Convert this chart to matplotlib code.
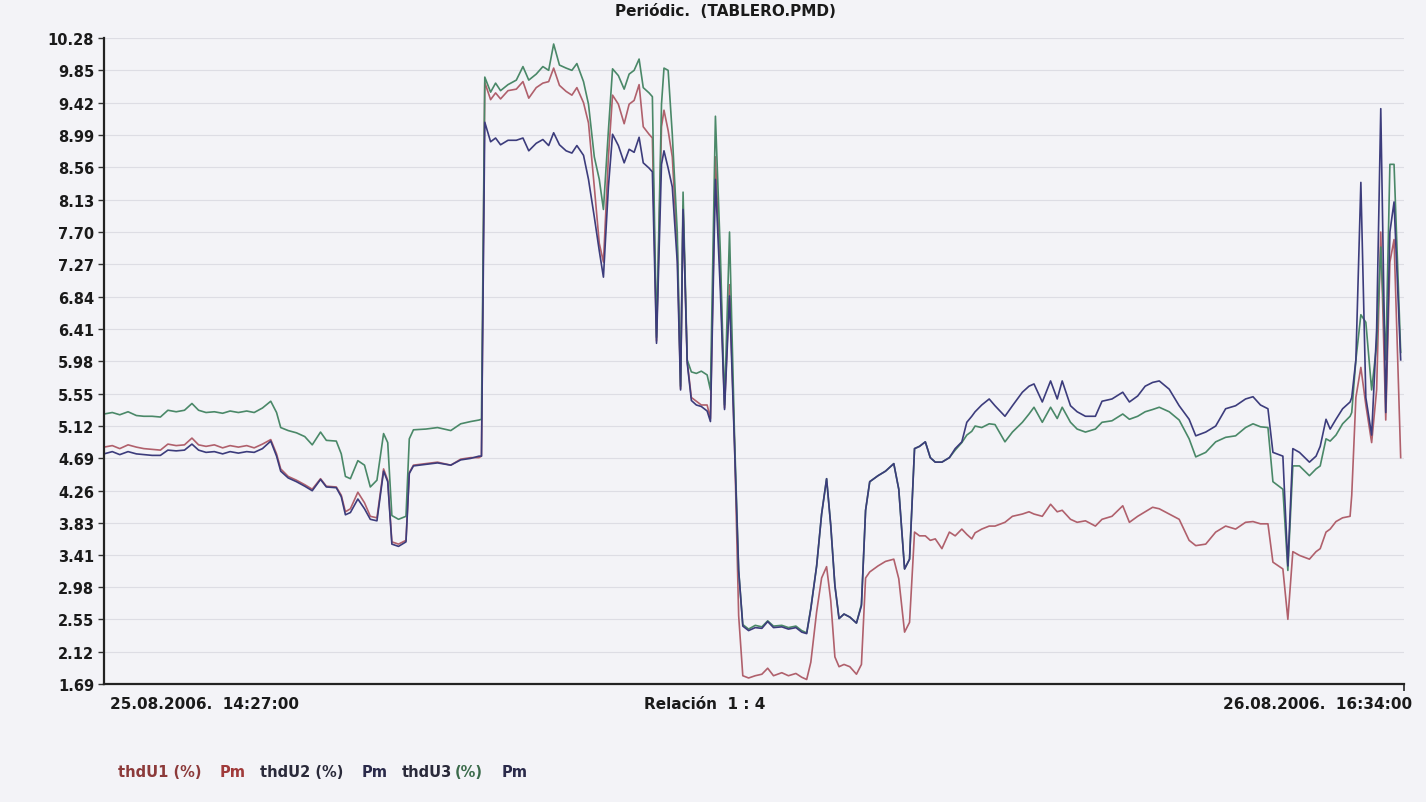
import numpy as np
import matplotlib
matplotlib.use("Agg")
import matplotlib.pyplot as plt

# minutes since 25.08.2006 14:27:00 (last sample 26.08.2006 16:34:00)
t_min = [0, 10, 19, 29, 39, 48, 58, 68, 77, 87, 97, 106, 114, 123, 133, 143, 152, 162, 172, 181,
         191, 201, 208, 213, 222, 232, 242, 251, 261, 268, 280, 286, 291, 297, 306, 314, 321, 329,
         337, 342, 347, 355, 364, 368, 373, 388, 402, 418, 430, 442, 452, 455, 459, 466, 472, 478,
         487, 497, 505, 512, 521, 529, 536, 542, 549, 557, 564, 570, 578, 584, 591, 597, 602, 608,
         613, 620, 627, 633, 639, 645, 650, 657, 661, 666, 672, 675, 680, 685, 691, 695, 698, 703,
         708, 714, 720, 727, 731, 737, 743, 748, 754, 760, 765, 770, 777, 785, 793, 800, 807, 817,
         825, 834, 841, 847, 852, 859, 865, 871, 876, 881, 886, 892, 899, 907, 913, 918, 923, 933,
         942, 952, 958, 965, 971, 977, 983, 990, 996, 1002, 1010, 1019, 1026, 1034, 1040, 1046,
         1050, 1058, 1067, 1074, 1086, 1095, 1107, 1115, 1121, 1131, 1141, 1149, 1155, 1165, 1173,
         1183, 1195, 1203, 1215, 1228, 1236, 1246, 1255, 1264, 1272, 1284, 1296, 1308, 1316, 1328,
         1340, 1352, 1364, 1376, 1385, 1394, 1403, 1409, 1421, 1427, 1433, 1441, 1453, 1461, 1466,
         1473, 1478, 1485, 1493, 1502, 1504, 1509, 1515, 1521, 1528, 1534, 1539, 1545, 1550, 1555,
         1563]

thdU1 = [4.84, 4.86, 4.82, 4.87, 4.84, 4.82, 4.81, 4.80, 4.88, 4.86, 4.87, 4.96, 4.87, 4.85, 4.87,
         4.83, 4.86, 4.84, 4.86, 4.83, 4.88, 4.94, 4.75, 4.55, 4.45, 4.40, 4.34, 4.28, 4.42, 4.32,
         4.31, 4.20, 3.98, 4.02, 4.24, 4.10, 3.92, 3.90, 4.55, 4.40, 3.58, 3.55, 3.60, 4.50, 4.60,
         4.62, 4.64, 4.60, 4.68, 4.70, 4.70, 4.72, 9.69, 9.46, 9.55, 9.47, 9.58, 9.60, 9.70, 9.48,
         9.62, 9.68, 9.70, 9.88, 9.65, 9.57, 9.52, 9.62, 9.42, 9.15, 8.30, 7.55, 7.30, 8.70, 9.52,
         9.40, 9.14, 9.40, 9.45, 9.66, 9.10, 9.00, 8.95, 6.25, 9.10, 9.32, 9.05, 8.70, 7.50, 5.62,
         8.05, 5.98, 5.50, 5.45, 5.40, 5.40, 5.22, 8.70, 7.10, 5.36, 7.00, 4.90, 2.60, 1.80, 1.77,
         1.80, 1.82, 1.90, 1.80, 1.84, 1.80, 1.83, 1.78, 1.75, 1.98, 2.65, 3.10, 3.25, 2.80, 2.05,
         1.92, 1.95, 1.92, 1.82, 1.95, 3.10, 3.18, 3.26, 3.32, 3.35, 3.09, 2.38, 2.51, 3.71, 3.66,
         3.66, 3.60, 3.62, 3.49, 3.71, 3.66, 3.75, 3.68, 3.62, 3.70, 3.75, 3.79, 3.79, 3.84, 3.92,
         3.95, 3.98, 3.95, 3.92, 4.08, 3.98, 4.00, 3.88, 3.84, 3.86, 3.79, 3.88, 3.92, 4.06, 3.84,
         3.92, 3.98, 4.04, 4.02, 3.95, 3.88, 3.60, 3.53, 3.55, 3.71, 3.79, 3.75, 3.84, 3.85, 3.82,
         3.82, 3.31, 3.22, 2.55, 3.45, 3.40, 3.35, 3.45, 3.49, 3.71, 3.75, 3.85, 3.90, 3.92, 4.20,
         5.50, 5.90, 5.40, 4.90, 5.60, 7.70, 5.20, 7.30, 7.60, 4.70]

thdU2 = [4.75, 4.78, 4.74, 4.78, 4.75, 4.74, 4.73, 4.73, 4.80, 4.79, 4.80, 4.88, 4.80, 4.77, 4.78,
         4.75, 4.78, 4.76, 4.78, 4.77, 4.82, 4.92, 4.72, 4.52, 4.43, 4.38, 4.32, 4.26, 4.41, 4.31,
         4.30, 4.18, 3.94, 3.97, 4.15, 4.02, 3.88, 3.86, 4.52, 4.38, 3.55, 3.52, 3.58, 4.49, 4.59,
         4.61, 4.63, 4.60, 4.67, 4.69, 4.72, 4.72, 9.16, 8.90, 8.95, 8.86, 8.92, 8.92, 8.95, 8.78,
         8.88, 8.93, 8.85, 9.02, 8.86, 8.78, 8.75, 8.85, 8.72, 8.40, 7.90, 7.45, 7.10, 8.30, 9.00,
         8.85, 8.62, 8.80, 8.76, 8.96, 8.62, 8.55, 8.50, 6.22, 8.60, 8.78, 8.55, 8.30, 7.30, 5.60,
         8.00, 5.96, 5.46, 5.40, 5.38, 5.32, 5.18, 8.40, 6.90, 5.34, 6.85, 4.85, 3.20, 2.46, 2.40,
         2.44, 2.43, 2.52, 2.44, 2.45, 2.42, 2.44, 2.38, 2.36, 2.69, 3.26, 3.95, 4.42, 3.80, 3.00,
         2.56, 2.62, 2.58, 2.50, 2.73, 4.00, 4.38, 4.46, 4.52, 4.62, 4.28, 3.22, 3.35, 4.82, 4.85,
         4.91, 4.70, 4.64, 4.64, 4.70, 4.82, 4.91, 5.17, 5.25, 5.31, 5.40, 5.48, 5.39, 5.25, 5.39,
         5.57, 5.65, 5.68, 5.44, 5.72, 5.48, 5.72, 5.39, 5.31, 5.25, 5.25, 5.45, 5.48, 5.57, 5.44,
         5.52, 5.65, 5.70, 5.72, 5.61, 5.39, 5.21, 4.99, 5.04, 5.12, 5.35, 5.39, 5.48, 5.51, 5.40,
         5.35, 4.77, 4.72, 3.26, 4.82, 4.77, 4.64, 4.72, 4.85, 5.21, 5.08, 5.21, 5.35, 5.44, 5.50,
         6.00, 8.36, 5.50, 5.00, 6.40, 9.34, 5.30, 7.70, 8.10, 6.00]

thdU3 = [5.28, 5.30, 5.27, 5.31, 5.26, 5.25, 5.25, 5.24, 5.33, 5.31, 5.33, 5.42, 5.33, 5.30, 5.31,
         5.29, 5.32, 5.30, 5.32, 5.30, 5.36, 5.45, 5.30, 5.10, 5.06, 5.03, 4.98, 4.87, 5.04, 4.93,
         4.92, 4.75, 4.45, 4.42, 4.66, 4.60, 4.31, 4.40, 5.02, 4.90, 3.93, 3.88, 3.92, 4.95, 5.07,
         5.08, 5.10, 5.06, 5.15, 5.18, 5.20, 5.21, 9.76, 9.56, 9.68, 9.58, 9.66, 9.72, 9.90, 9.72,
         9.80, 9.90, 9.85, 10.20, 9.92, 9.88, 9.85, 9.94, 9.70, 9.40, 8.70, 8.40, 8.00, 9.05, 9.87,
         9.78, 9.60, 9.80, 9.85, 10.00, 9.62, 9.55, 9.50, 6.30, 9.40, 9.88, 9.85, 9.00, 7.70, 5.65,
         8.23, 6.00, 5.84, 5.82, 5.85, 5.80, 5.60, 9.24, 7.40, 5.40, 7.70, 5.00, 3.20, 2.48, 2.42,
         2.47, 2.45, 2.53, 2.46, 2.47, 2.44, 2.46, 2.40, 2.37, 2.70, 3.26, 3.95, 4.42, 3.80, 3.00,
         2.56, 2.62, 2.58, 2.50, 2.75, 4.00, 4.38, 4.46, 4.52, 4.62, 4.28, 3.22, 3.35, 4.82, 4.85,
         4.91, 4.70, 4.64, 4.64, 4.70, 4.80, 4.90, 5.00, 5.05, 5.12, 5.10, 5.15, 5.14, 4.91, 5.04,
         5.17, 5.28, 5.37, 5.17, 5.37, 5.22, 5.37, 5.17, 5.08, 5.04, 5.08, 5.17, 5.19, 5.28, 5.21,
         5.25, 5.31, 5.34, 5.37, 5.31, 5.20, 4.95, 4.71, 4.77, 4.91, 4.97, 4.99, 5.10, 5.15, 5.11,
         5.10, 4.38, 4.28, 3.20, 4.59, 4.59, 4.46, 4.55, 4.59, 4.95, 4.92, 5.00, 5.15, 5.25, 5.30,
         6.00, 6.60, 6.50, 5.60, 6.20, 7.50, 6.00, 8.60, 8.60, 6.10]

y_ticks = [1.69, 2.12, 2.55, 2.98, 3.41, 3.83, 4.26, 4.69, 5.12, 5.55, 5.98, 6.41, 6.84,
           7.27, 7.70, 8.13, 8.56, 8.99, 9.42, 9.85, 10.28]
t_end = 1567
start_label = "25.08.2006.  14:27:00"
end_label = "26.08.2006.  16:34:00"
mid_label = "Relación  1 : 4"
title = "Periódic.  (TABLERO.PMD)"

bg = "#f3f3f7"
ink = "#1a1a1a"
c_red = "#b0606c"
c_blue = "#3c3c7c"
c_green = "#4a8868"

# the printout uses a wide, Verdana-like bold face
plt.rcParams["font.family"] = ["DejaVu Sans"]

fig = plt.figure(figsize=(14.26, 8.03), dpi=100, facecolor=bg)
ax = fig.add_axes([104 / 1426, 1 - 685 / 803, 1300 / 1426, 646 / 803])
ax.set_facecolor(bg)

ax.plot(t_min, thdU1, color=c_red, lw=1.2)
ax.plot(t_min, thdU3, color=c_green, lw=1.2)
ax.plot(t_min, thdU2, color=c_blue, lw=1.2)

ax.set_xlim(0, t_end)
ax.set_ylim(y_ticks[0], y_ticks[-1])
ax.set_yticks(y_ticks)
ax.set_yticklabels(["%.2f" % v for v in y_ticks], fontsize=10.5, fontweight="bold", color=ink)
ax.set_xticks([t_end])
ax.set_xticklabels([""])
ax.tick_params(axis="y", length=4, width=1, color="#333333", pad=3)
ax.tick_params(axis="x", length=5, width=1.2, color="#222222", direction="out")
ax.grid(axis="y", color="#dddde4", lw=0.8)
ax.set_axisbelow(True)
for s in ["top", "right"]:
    ax.spines[s].set_visible(False)
for s in ["left", "bottom"]:
    ax.spines[s].set_linewidth(1.6)
    ax.spines[s].set_color("#222222")

fig.text(725 / 1426, 1 - 12 / 803, title, ha="center", va="center", fontsize=11, fontweight="bold", color=ink)
fig.text(110 / 1426, 1 - 705 / 803, start_label, ha="left", va="center", fontsize=11, fontweight="bold", color=ink)
fig.text(705 / 1426, 1 - 705 / 803, mid_label, ha="center", va="center", fontsize=11, fontweight="bold", color=ink)
fig.text(1412 / 1426, 1 - 705 / 803, end_label, ha="right", va="center", fontsize=11, fontweight="bold", color=ink)

# legend row, coloured like the original printout
legend_parts = [("thdU1 (%)", 118, "#8c3a3a"), ("Pm", 220, "#a03a3a"),
                ("thdU2 (%)", 260, "#2a2a3a"), ("Pm", 362, "#2a2a4a"),
                ("thdU3", 402, "#2a2a3a"), ("(%)", 455, "#3a6a4a"), ("Pm", 502, "#2a2a4a")]
for txt, px, col in legend_parts:
    fig.text(px / 1426, 1 - 773 / 803, txt, ha="left", va="center", fontsize=10.5, fontweight="bold", color=col)

fig.savefig("out.png", dpi=100, facecolor=bg)
